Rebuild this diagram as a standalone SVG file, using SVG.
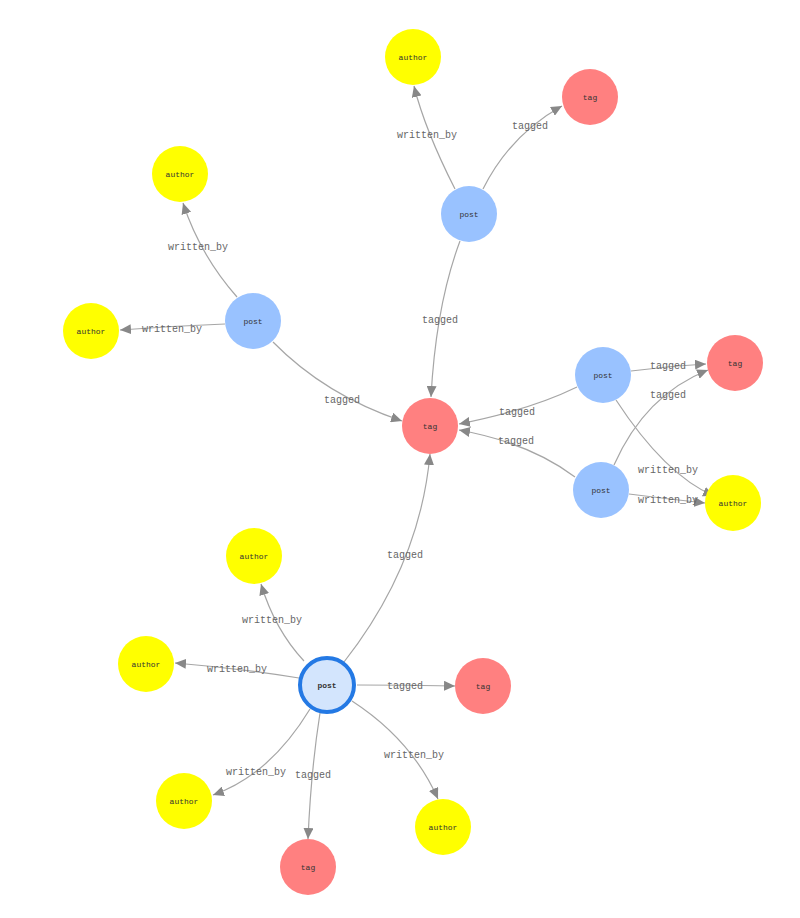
<svg xmlns="http://www.w3.org/2000/svg" width="800" height="918" viewBox="0 0 800 918">
<style>
.bg{fill:#ffffff}
.e{fill:none;stroke:#a6a6a6;stroke-width:1.2;marker-end:url(#arr)}
.el{font-family:"Liberation Mono",monospace;font-size:10px;fill:#666;text-anchor:middle;dominant-baseline:central}
.nl{font-family:"Liberation Mono",monospace;font-size:8px;fill:#333;text-anchor:middle;dominant-baseline:central}
.post{fill:#99c2ff}
.tag{fill:#ff8080}
.author{fill:#ffff00}
.sel{fill:#d3e5fd;stroke:#2479e4;stroke-width:4}
</style>
<defs>
<marker id="arr" markerUnits="userSpaceOnUse" markerWidth="12" markerHeight="10" refX="11" refY="5" orient="auto">
<path d="M0,0 L11,5 L0,10 z" fill="#888"/>
</marker>
</defs>
<rect class="bg" x="0" y="0" width="800" height="918"/>
<g id="connectors">
<path class="e" d="M455,189 Q425,130 414,86"/>
<path class="e" d="M483,189 Q510,135 562,106"/>
<path class="e" d="M460,241 Q436,305 431,397"/>
<path class="e" d="M237,297 Q200,255 183,203"/>
<path class="e" d="M225,324 Q172,326 120,330"/>
<path class="e" d="M273,342 Q325,395 402,421"/>
<path class="e" d="M577,387 Q530,410 459,424"/>
<path class="e" d="M631,371 Q668,366 706,364"/>
<path class="e" d="M616,400 Q665,475 714,496"/>
<path class="e" d="M575,477 Q530,443 459,430"/>
<path class="e" d="M614,465 Q645,395 708,370"/>
<path class="e" d="M629,494 Q668,499 705,503"/>
<path class="e" d="M344,662 Q420,565 430,454"/>
<path class="e" d="M304,661 Q275,630 261,584"/>
<path class="e" d="M299,678 Q237,668 175,663"/>
<path class="e" d="M357,685 Q406,685 455,686"/>
<path class="e" d="M310,709 Q270,775 213,795"/>
<path class="e" d="M320,713 Q311,770 308,839"/>
<path class="e" d="M352,701 Q412,740 438,799"/>
<text class="el" x="427" y="135">written_by</text>
<text class="el" x="530" y="126">tagged</text>
<text class="el" x="440" y="320">tagged</text>
<text class="el" x="198" y="247">written_by</text>
<text class="el" x="172" y="329">written_by</text>
<text class="el" x="342" y="400">tagged</text>
<text class="el" x="517" y="412">tagged</text>
<text class="el" x="668" y="366">tagged</text>
<text class="el" x="668" y="470">written_by</text>
<text class="el" x="516" y="441">tagged</text>
<text class="el" x="668" y="395">tagged</text>
<text class="el" x="668" y="500">written_by</text>
<text class="el" x="405" y="555">tagged</text>
<text class="el" x="272" y="620">written_by</text>
<text class="el" x="237" y="669">written_by</text>
<text class="el" x="405" y="686">tagged</text>
<text class="el" x="256" y="772">written_by</text>
<text class="el" x="313" y="775">tagged</text>
<text class="el" x="414" y="755">written_by</text>
</g>
<g id="n-author1"><circle class="author" cx="413" cy="57" r="28"/><text class="nl" x="413" y="57">author</text></g>
<g id="n-tag1"><circle class="tag" cx="590" cy="97" r="28"/><text class="nl" x="590" y="97">tag</text></g>
<g id="n-post1"><circle class="post" cx="469" cy="214" r="28"/><text class="nl" x="469" y="214">post</text></g>
<g id="n-author2"><circle class="author" cx="180" cy="174" r="28"/><text class="nl" x="180" y="174">author</text></g>
<g id="n-author3"><circle class="author" cx="91" cy="331" r="28"/><text class="nl" x="91" y="331">author</text></g>
<g id="n-post2"><circle class="post" cx="253" cy="321" r="28"/><text class="nl" x="253" y="321">post</text></g>
<g id="n-tagc"><circle class="tag" cx="430" cy="426" r="28"/><text class="nl" x="430" y="426">tag</text></g>
<g id="n-post3"><circle class="post" cx="603" cy="375" r="28"/><text class="nl" x="603" y="375">post</text></g>
<g id="n-tag2"><circle class="tag" cx="735" cy="363" r="28"/><text class="nl" x="735" y="363">tag</text></g>
<g id="n-post4"><circle class="post" cx="601" cy="490" r="28"/><text class="nl" x="601" y="490">post</text></g>
<g id="n-author4"><circle class="author" cx="733" cy="503" r="28"/><text class="nl" x="733" y="503">author</text></g>
<g id="n-author5"><circle class="author" cx="254" cy="556" r="28"/><text class="nl" x="254" y="556">author</text></g>
<g id="n-author6"><circle class="author" cx="146" cy="664" r="28"/><text class="nl" x="146" y="664">author</text></g>
<g id="n-postsel"><circle class="sel" cx="327" cy="685" r="27"/><text class="nl" x="327" y="685" font-weight="bold">post</text></g>
<g id="n-tag3"><circle class="tag" cx="483" cy="686" r="28"/><text class="nl" x="483" y="686">tag</text></g>
<g id="n-author7"><circle class="author" cx="184" cy="801" r="28"/><text class="nl" x="184" y="801">author</text></g>
<g id="n-author8"><circle class="author" cx="443" cy="827" r="28"/><text class="nl" x="443" y="827">author</text></g>
<g id="n-tag4"><circle class="tag" cx="308" cy="867" r="28"/><text class="nl" x="308" y="867">tag</text></g>
</svg>
